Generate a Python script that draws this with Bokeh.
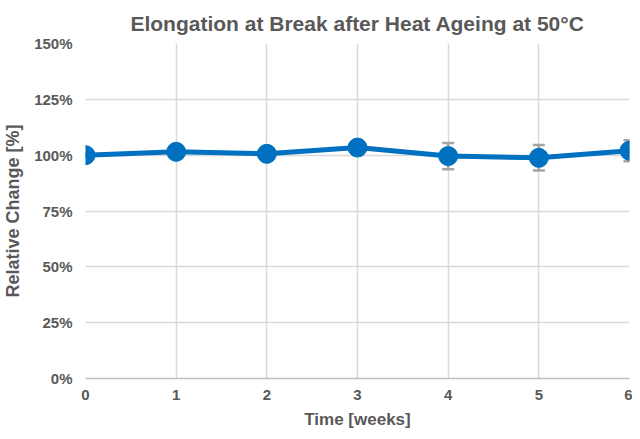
from bokeh.plotting import figure
from bokeh.models import ColumnDataSource, Whisker, NumeralTickFormatter, FixedTicker, Range1d
from bokeh.embed import file_html
from bokeh.resources import INLINE

weeks = [0, 1, 2, 3, 4, 5, 6]
relative_change = [100.0, 101.5, 100.6, 103.4, 99.6, 98.8, 102.0]
error = [0.0, 0.0, 0.0, 0.0, 5.9, 5.7, 4.7]
title_text = "Elongation at Break after Heat Ageing at 50°C"

lower = [v - e for v, e in zip(relative_change, error)]
upper = [v + e for v, e in zip(relative_change, error)]
src = ColumnDataSource(dict(x=weeks, y=[v / 100 for v in relative_change],
                            lo=[v / 100 for v in lower], up=[v / 100 for v in upper]))

TEXT = "#595959"
FONT = "Liberation Sans"

p = figure(width=632, height=431, output_backend="svg", toolbar_location=None,
           x_range=Range1d(0, 6), y_range=Range1d(0, 1.5),
           min_border_left=80, min_border_right=3, min_border_top=0, min_border_bottom=10)

p.title.text = title_text
p.title.align = "center"
p.title.text_font = FONT
p.title.text_font_size = "21px"
p.title.text_font_style = "bold"
p.title.text_color = TEXT
p.title.standoff = 18

p.outline_line_color = None
p.background_fill_color = "white"
p.border_fill_color = "white"

p.xaxis.ticker = FixedTicker(ticks=weeks)
p.yaxis.ticker = FixedTicker(ticks=[0, 0.25, 0.5, 0.75, 1.0, 1.25, 1.5])
p.yaxis.formatter = NumeralTickFormatter(format="0%")

for ax in (p.xaxis[0], p.yaxis[0]):
    ax.major_label_text_font = FONT
    ax.major_label_text_font_style = "bold"
    ax.major_label_text_font_size = "15px"
    ax.major_label_text_color = TEXT
    ax.axis_label_text_font = FONT
    ax.axis_label_text_font_style = "bold"
    ax.axis_label_text_color = TEXT
    ax.major_tick_line_color = None
    ax.minor_tick_line_color = None
    ax.major_tick_out = 0
    ax.major_tick_in = 0
    ax.minor_tick_out = 0

p.xaxis.axis_label = "Time [weeks]"
p.yaxis.axis_label = "Relative Change [%]"
p.xaxis.axis_label_text_font_size = "17px"
p.yaxis.axis_label_text_font_size = "18px"
p.xaxis.axis_line_color = "#BFBFBF"
p.xaxis.axis_line_width = 1.5
p.yaxis.axis_line_color = None
p.xaxis.major_label_standoff = 11
p.yaxis.major_label_standoff = 13
p.xaxis.axis_label_standoff = 7
p.yaxis.axis_label_standoff = 8

p.grid.grid_line_color = "#D9D9D9"
p.grid.grid_line_width = 1.5

w = Whisker(source=src, base="x", lower="lo", upper="up", line_color="#A5A5A5", line_width=2.5)
w.upper_head.line_color = "#A5A5A5"
w.lower_head.line_color = "#A5A5A5"
w.upper_head.line_width = 2.5
w.lower_head.line_width = 2.5
w.upper_head.size = 12
w.lower_head.size = 12
p.add_layout(w)

p.line("x", "y", source=src, line_color="#0070C0", line_width=5)
p.scatter("x", "y", source=src, size=19, fill_color="#0070C0", line_color="#0070C0")

open("out.html", "w").write(file_html(p, INLINE))
